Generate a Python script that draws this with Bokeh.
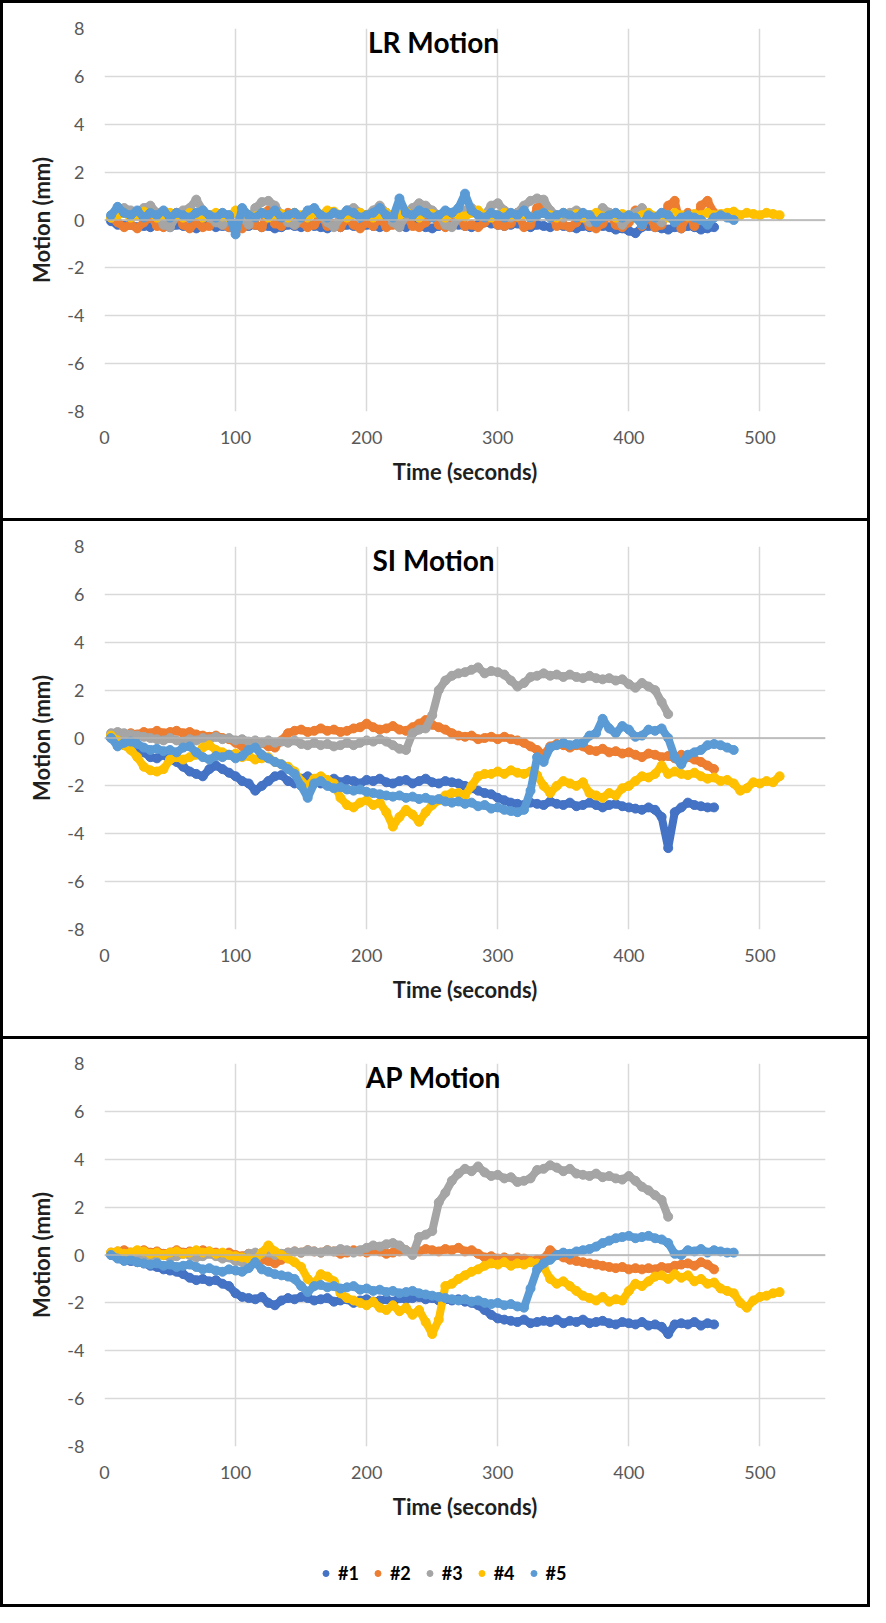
import numpy as np
from bokeh.plotting import figure
from bokeh.models import Range1d, FixedTicker, Span, Label, Legend, LegendItem, ColumnDataSource
from bokeh.layouts import column
from bokeh.embed import file_html
from bokeh.resources import INLINE

# ---------------- data ----------------
T0 = 5      # first sample time (s)
DT = 5      # sample spacing (s)
SERIES = ["#1", "#2", "#3", "#4", "#5"]
COLORS = ["#4472C4", "#ED7D31", "#A5A5A5", "#FFC000", "#5B9BD5"]
X_TICKS = [0, 100, 200, 300, 400, 500]
Y_TICKS = [-8, -6, -4, -2, 0, 2, 4, 6, 8]
TITLES = ["LR Motion", "SI Motion", "AP Motion"]

lr_1 = [-0.05,-0.2,-0.25,-0.2,-0.3,-0.25,-0.3,-0.2,-0.25,-0.3,
        -0.2,-0.25,-0.3,-0.35,-0.25,-0.2,-0.3,-0.25,-0.3,-0.4,
        -0.3,-0.25,-0.2,-0.3,-0.25,-0.35,-0.3,-0.2,-0.25,-0.3,
        -0.2,-0.25,-0.3,-0.35,-0.25,-0.3,-0.2,-0.25,-0.3,-0.2,
        -0.25,-0.3,-0.2,-0.15,-0.25,-0.3,-0.2,-0.25,-0.3,-0.35,
        -0.25,-0.2,-0.15,-0.2,-0.25,-0.3,-0.2,-0.1,-0.15,-0.2,
        -0.25,-0.2,-0.15,-0.25,-0.3,-0.2,-0.25,-0.3,-0.2,-0.25,
        -0.3,-0.35,-0.25,-0.3,-0.2,-0.25,-0.3,-0.4,-0.35,-0.45,
        -0.55,-0.3,-0.25,-0.3,-0.35,-0.4,-0.3,-0.35,-0.25,-0.3,
        -0.4,-0.35,-0.3]
lr_2 = [0.1,-0.1,-0.3,-0.2,-0.35,-0.1,0.2,-0.25,-0.3,-0.15,
        0.3,-0.2,-0.35,-0.1,-0.3,-0.25,0.1,-0.2,-0.3,-0.15,
        -0.35,0.2,-0.2,-0.3,0.4,-0.15,-0.25,0.3,-0.2,-0.1,
        -0.3,-0.2,0.2,-0.25,-0.15,-0.3,0.1,-0.2,-0.35,-0.1,
        -0.25,0.1,-0.3,-0.2,-0.15,0.2,-0.25,-0.3,-0.1,0.3,
        -0.2,-0.3,-0.15,0.1,-0.25,-0.2,-0.3,-0.1,0.2,-0.2,
        -0.25,-0.15,0.3,-0.3,-0.2,0.5,0.7,0.3,-0.25,-0.2,
        -0.3,-0.1,0.2,-0.25,-0.35,-0.15,0.3,-0.2,-0.3,-0.1,
        0.4,-0.25,0.2,-0.3,-0.2,0.6,0.8,-0.35,0.3,-0.25,
        0.6,0.8,0.3]
lr_3 = [0.1,0.3,0.5,0.4,0.2,0.5,0.6,0.3,-0.2,-0.3,
        0.2,0.4,0.5,0.85,0.4,0.1,-0.1,-0.2,0.2,0.3,
        0.1,-0.2,0.5,0.75,0.8,0.6,0.2,-0.1,-0.2,0.1,
        0.3,0.4,0.2,-0.1,-0.3,0.1,0.4,0.5,0.3,0.2,
        0.4,0.6,0.3,-0.1,-0.3,0.2,0.5,0.7,0.6,0.4,
        0.2,-0.2,-0.3,0.1,0.4,0.5,0.3,0.2,0.6,0.7,
        0.4,0.1,0.3,0.6,0.8,0.9,0.85,0.4,0.2,0.1,
        0.3,0.4,0.2,-0.1,0.1,0.5,0.3,0.2,-0.2,0.1,
        0.3,0.5,0.2,0.1,-0.1,0.2]
lr_4 = [0.1,0.2,0.3,0.1,0.2,0.35,0.3,0.1,0.2,0.3,
        0.2,0.1,0.3,0.25,0.1,0.2,0.3,0.15,0.1,0.4,
        0.3,0.2,0.15,0.3,0.1,0.2,0.25,0.1,0.3,0.2,
        0.1,0.3,0.2,0.4,0.35,0.2,0.1,0.25,0.3,0.2,
        0.1,0.2,0.3,0.15,0.2,0.35,0.2,0.1,0.3,0.25,
        0.2,0.1,0.3,0.2,0.15,0.3,0.4,0.2,0.1,0.2,
        0.3,0.2,0.15,0.25,0.1,0.2,0.3,0.2,0.1,0.3,
        0.2,0.25,0.1,0.2,0.3,0.15,0.2,0.1,0.25,0.2,
        0.1,0.2,0.3,0.15,0.2,0.1,0.3,0.2,0.15,0.25,
        0.2,0.3,0.2,0.25,0.3,0.35,0.2,0.3,0.25,0.2,
        0.3,0.25,0.2]
lr_5 = [0.2,0.55,0.3,0.2,0.4,0.1,0.3,0.2,0.4,0.1,
        0.3,0.2,0.1,0.3,0.4,0.2,0.1,0.3,0.2,-0.6,
        0.5,0.2,0.1,0.3,0.2,0.4,0.1,0.2,0.3,0.1,
        0.4,0.5,0.2,0.1,0.3,0.2,0.4,0.3,0.1,0.2,
        0.3,0.5,0.2,0.1,0.9,0.3,0.2,0.4,0.3,0.1,
        0.2,0.4,0.3,0.5,1.1,0.4,0.2,0.1,0.3,0.2,
        0.1,0.3,0.2,0.4,0.1,0.2,0.3,0.1,0.2,0.3,
        0.2,0.1,0.3,0.2,-0.1,0.1,0.2,0.3,0.1,0.2,
        0.1,-0.2,0.2,0.1,0.3,0.2,-0.1,0.1,0.2,0.1,
        0.0,-0.2,0.1,0.2,0.1,0.0]

si_1 = [0.0,-0.2,-0.3,-0.4,-0.5,-0.6,-0.8,-0.85,-0.7,-0.9,
        -1.0,-1.2,-1.4,-1.5,-1.6,-1.3,-1.15,-1.3,-1.45,-1.6,
        -1.8,-1.9,-2.2,-2.0,-1.8,-1.6,-1.55,-1.8,-1.9,-1.7,
        -1.6,-1.75,-1.9,-1.8,-1.7,-1.85,-1.75,-1.8,-1.9,-1.75,
        -1.8,-1.7,-1.85,-1.9,-1.8,-1.75,-1.9,-1.8,-1.7,-1.85,
        -1.9,-1.8,-1.85,-1.9,-2.0,-2.1,-2.2,-2.3,-2.35,-2.5,
        -2.6,-2.7,-2.75,-2.8,-2.7,-2.75,-2.8,-2.65,-2.75,-2.8,
        -2.7,-2.85,-2.8,-2.7,-2.8,-2.9,-2.8,-2.75,-2.85,-2.9,
        -2.95,-3.0,-2.9,-3.0,-3.3,-4.6,-3.1,-2.9,-2.7,-2.8,
        -2.85,-2.9,-2.9]
si_2 = [0.1,0.15,0.1,0.2,0.15,0.25,0.2,0.3,0.2,0.25,
        0.3,0.2,0.25,0.15,0.1,0.05,0.1,0.0,-0.05,-0.2,
        -0.35,-0.5,-0.3,-0.2,-0.35,-0.4,-0.1,0.2,0.3,0.35,
        0.25,0.3,0.4,0.3,0.35,0.25,0.3,0.4,0.45,0.6,
        0.45,0.35,0.4,0.5,0.35,0.3,0.45,0.6,0.75,0.55,
        0.45,0.35,0.2,0.1,0.05,0.1,-0.05,0.0,0.05,-0.05,
        0.05,-0.05,-0.1,-0.2,-0.35,-0.5,-0.7,-0.35,-0.25,-0.3,
        -0.4,-0.3,-0.35,-0.5,-0.55,-0.45,-0.6,-0.55,-0.65,-0.6,
        -0.7,-0.8,-0.65,-0.7,-0.8,-0.75,-0.85,-0.7,-0.8,-0.9,
        -1.0,-1.15,-1.3]
si_3 = [0.2,0.25,0.2,0.15,0.1,0.05,0.0,-0.05,-0.1,0.0,
        -0.1,-0.15,-0.05,-0.1,0.0,-0.05,0.05,-0.05,0.0,-0.1,
        -0.05,-0.15,-0.1,-0.2,-0.1,-0.2,-0.15,-0.2,-0.1,-0.25,
        -0.3,-0.2,-0.3,-0.25,-0.35,-0.3,-0.2,-0.3,-0.2,-0.1,
        -0.15,-0.05,-0.15,-0.3,-0.45,-0.5,0.2,0.35,0.4,0.95,
        2.0,2.4,2.6,2.7,2.75,2.85,2.95,2.7,2.8,2.75,
        2.65,2.4,2.15,2.3,2.55,2.6,2.7,2.6,2.65,2.55,
        2.65,2.55,2.5,2.6,2.5,2.45,2.5,2.4,2.45,2.25,
        2.1,2.3,2.15,2.0,1.5,1.0]
si_4 = [0.1,-0.1,-0.3,-0.5,-0.8,-1.2,-1.35,-1.4,-1.3,-0.9,
        -0.8,-0.9,-0.8,-0.7,-0.4,-0.3,-0.5,-0.6,-0.7,-0.65,
        -0.8,-0.75,-0.9,-0.85,-0.8,-1.0,-1.1,-1.2,-1.4,-1.8,
        -2.0,-1.7,-1.6,-1.75,-1.9,-2.5,-2.8,-2.9,-2.7,-2.6,
        -2.8,-2.7,-3.1,-3.7,-3.3,-3.0,-3.2,-3.5,-3.1,-2.8,
        -2.6,-2.4,-2.3,-2.3,-2.4,-2.0,-1.6,-1.5,-1.5,-1.4,
        -1.5,-1.35,-1.45,-1.5,-1.4,-1.55,-2.0,-2.3,-2.0,-1.8,
        -1.9,-2.0,-1.85,-2.3,-2.4,-2.5,-2.3,-2.4,-2.1,-2.0,
        -1.8,-1.6,-1.65,-1.5,-1.15,-1.5,-1.4,-1.5,-1.55,-1.45,
        -1.6,-1.7,-1.65,-1.8,-1.75,-1.9,-2.2,-2.1,-1.85,-1.9,
        -1.8,-1.85,-1.6]
si_5 = [0.0,-0.35,-0.2,-0.15,-0.25,-0.4,-0.5,-0.45,-0.55,-0.5,
        -0.6,-0.4,-0.35,-0.6,-0.8,-0.9,-0.75,-0.8,-0.7,-0.85,
        -0.75,-0.5,-0.4,-0.7,-0.85,-1.0,-1.1,-1.3,-1.5,-2.0,
        -2.5,-1.9,-1.8,-2.0,-2.1,-2.05,-2.15,-2.2,-2.15,-2.25,
        -2.3,-2.35,-2.4,-2.45,-2.4,-2.5,-2.45,-2.55,-2.5,-2.6,
        -2.55,-2.65,-2.7,-2.65,-2.75,-2.7,-2.85,-2.8,-2.95,-2.9,
        -3.0,-3.05,-3.1,-3.0,-2.2,-0.8,-1.0,-0.4,-0.3,-0.2,
        -0.3,-0.25,-0.2,0.1,0.2,0.8,0.4,0.2,0.5,0.35,
        0.05,0.1,0.35,0.3,0.4,0.0,-0.8,-1.1,-0.7,-0.6,
        -0.5,-0.3,-0.25,-0.3,-0.4,-0.5]

ap_1 = [0.0,-0.1,-0.2,-0.25,-0.3,-0.35,-0.45,-0.5,-0.6,-0.65,
        -0.7,-0.8,-0.95,-1.05,-1.0,-1.1,-1.05,-1.2,-1.3,-1.6,
        -1.75,-1.8,-1.85,-1.75,-2.0,-2.1,-1.9,-1.8,-1.85,-1.75,
        -1.8,-1.9,-1.85,-1.8,-1.95,-1.9,-1.85,-2.0,-1.9,-1.85,
        -1.95,-1.9,-1.85,-1.95,-1.8,-1.85,-1.8,-1.75,-1.85,-1.8,
        -1.9,-1.85,-1.9,-1.85,-1.95,-2.0,-2.1,-2.3,-2.5,-2.65,
        -2.7,-2.75,-2.8,-2.7,-2.85,-2.8,-2.75,-2.8,-2.7,-2.85,
        -2.75,-2.8,-2.7,-2.85,-2.8,-2.75,-2.85,-2.9,-2.8,-2.85,
        -2.9,-2.8,-2.95,-2.9,-3.0,-3.3,-2.9,-2.85,-2.9,-2.8,
        -2.95,-2.85,-2.9]
ap_2 = [0.1,0.15,0.2,0.1,0.15,0.2,0.1,0.15,0.05,0.1,
        0.2,0.1,0.15,0.1,0.2,0.15,0.1,0.05,0.1,0.0,
        -0.05,0.05,-0.1,-0.2,-0.25,-0.35,-0.2,0.1,0.15,0.1,
        0.2,0.15,0.1,0.2,0.15,0.05,0.1,0.2,0.15,0.1,
        0.2,0.15,0.05,0.1,0.15,0.2,0.1,0.15,0.25,0.2,
        0.15,0.25,0.2,0.3,0.15,0.2,0.05,-0.1,-0.05,-0.15,
        -0.1,-0.2,-0.1,-0.15,-0.25,-0.2,-0.15,0.2,0.0,-0.1,
        -0.2,-0.25,-0.3,-0.35,-0.4,-0.45,-0.5,-0.55,-0.5,-0.6,
        -0.55,-0.6,-0.55,-0.6,-0.5,-0.55,-0.45,-0.4,-0.35,-0.45,
        -0.3,-0.4,-0.6]
ap_3 = [0.05,0.1,0.0,-0.05,0.05,-0.1,-0.15,-0.05,0.0,-0.1,
        -0.05,0.05,0.0,-0.1,-0.05,0.05,-0.05,-0.15,-0.1,-0.25,
        -0.3,0.05,0.1,0.05,0.1,0.0,0.05,0.1,0.15,0.1,
        0.2,0.15,0.1,0.2,0.15,0.25,0.2,0.1,0.2,0.3,
        0.4,0.35,0.45,0.5,0.4,0.2,0.0,0.75,0.85,1.0,
        2.2,2.6,3.1,3.4,3.6,3.5,3.7,3.45,3.3,3.35,
        3.2,3.25,3.05,3.1,3.2,3.55,3.6,3.75,3.65,3.5,
        3.6,3.4,3.35,3.3,3.4,3.25,3.3,3.2,3.15,3.3,
        3.1,2.85,2.7,2.5,2.3,1.6]
ap_4 = [0.1,0.15,0.05,0.1,0.2,0.15,0.05,0.1,0.0,0.1,
        0.15,0.05,0.1,0.2,0.1,0.15,0.05,0.1,0.0,-0.05,
        -0.1,-0.15,-0.2,0.1,0.4,0.15,0.0,-0.15,-0.3,-0.5,
        -1.0,-1.2,-0.8,-0.9,-1.1,-1.6,-1.8,-1.9,-2.0,-2.1,
        -1.95,-2.2,-2.3,-2.1,-2.35,-2.2,-2.5,-2.3,-2.8,-3.3,
        -2.7,-1.3,-1.2,-1.0,-0.85,-0.7,-0.6,-0.45,-0.35,-0.4,
        -0.3,-0.45,-0.35,-0.4,-0.3,-0.35,-0.5,-1.0,-1.2,-1.1,
        -1.3,-1.5,-1.7,-1.8,-1.9,-1.75,-1.95,-1.85,-1.9,-1.5,
        -1.2,-1.3,-1.1,-0.9,-0.85,-1.0,-0.8,-0.95,-0.85,-1.1,
        -1.0,-1.2,-1.15,-1.4,-1.5,-1.6,-2.0,-2.2,-1.9,-1.75,
        -1.7,-1.6,-1.55]
ap_5 = [0.0,-0.15,-0.25,-0.2,-0.3,-0.35,-0.4,-0.35,-0.45,-0.4,
        -0.5,-0.45,-0.4,-0.5,-0.6,-0.55,-0.65,-0.7,-0.6,-0.65,
        -0.7,-0.55,-0.3,-0.6,-0.7,-0.8,-0.85,-0.9,-1.0,-1.3,
        -1.55,-1.3,-1.25,-1.35,-1.3,-1.4,-1.35,-1.3,-1.45,-1.4,
        -1.5,-1.45,-1.55,-1.5,-1.6,-1.55,-1.5,-1.6,-1.65,-1.7,
        -1.75,-1.8,-1.85,-1.9,-1.85,-1.95,-1.9,-2.0,-2.05,-2.0,
        -2.1,-2.05,-2.15,-2.2,-1.4,-0.6,-0.35,-0.2,0.0,0.1,
        0.05,0.15,0.2,0.25,0.35,0.5,0.6,0.7,0.75,0.8,
        0.7,0.75,0.8,0.7,0.65,0.5,0.05,0.0,0.2,0.15,
        0.25,0.1,0.2,0.15,0.1,0.1]

PANELS = [
    [lr_1, lr_2, lr_3, lr_4, lr_5],
    [si_1, si_2, si_3, si_4, si_5],
    [ap_1, ap_2, ap_3, ap_4, ap_5],
]

# ---------------- layout ----------------
FIG_W = 864
HEIGHTS = [515, 515, 507]
TOPS = [25, 25, 24]
FRAME_H = 383
LEG_H = 58
FONT = "Lato"
WHITE = {"background-color": "white"}


def make_panel(idx):
    h = HEIGHTS[idx]
    top = TOPS[idx]
    p = figure(width=FIG_W, height=h,
               x_range=Range1d(0, 550), y_range=Range1d(-8, 8),
               output_backend="svg", toolbar_location=None,
               min_border_left=101, min_border_right=42,
               min_border_top=top, min_border_bottom=h - top - FRAME_H,
               styles=WHITE)
    p.outline_line_color = None
    p.background_fill_color = "white"
    p.border_fill_color = "white"

    p.xaxis.ticker = FixedTicker(ticks=X_TICKS)
    p.yaxis.ticker = FixedTicker(ticks=Y_TICKS)
    p.yaxis.major_label_overrides = {v: str(v) for v in Y_TICKS}
    for ax in (p.xaxis[0], p.yaxis[0]):
        ax.axis_line_color = None
        ax.major_tick_line_color = None
        ax.minor_tick_line_color = None
        ax.major_tick_out = 0
        ax.major_tick_in = 0
        ax.major_label_text_font = FONT
        ax.major_label_text_font_size = "18px"
        ax.major_label_text_color = "#595959"
        ax.axis_label_text_font = FONT
        ax.axis_label_text_font_size = "22px"
        ax.axis_label_text_font_style = "bold"
        ax.axis_label_text_color = "#1f1f1f"
    p.xaxis.axis_label = "Time (seconds)"
    p.yaxis.axis_label = "Motion (mm)"
    p.xaxis.major_label_standoff = 19
    p.xaxis.axis_label_standoff = 11
    p.yaxis.major_label_standoff = 20
    p.yaxis.axis_label_standoff = 9

    p.xgrid.grid_line_color = "#d9d9d9"
    p.ygrid.grid_line_color = "#d9d9d9"
    p.xgrid.grid_line_width = 1.5
    p.ygrid.grid_line_width = 1.5

    p.add_layout(Span(location=0, dimension="width", line_color="#b3b3b3", line_width=1.5))

    srcs = []
    for k, vals in enumerate(PANELS[idx]):
        t = T0 + DT * np.arange(len(vals))
        src = ColumnDataSource(dict(t=t, v=np.array(vals, dtype=float)))
        p.line("t", "v", source=src, line_color=COLORS[k], line_width=8, line_join="round")
        p.scatter("t", "v", source=src, size=9, marker="circle",
                  fill_color=COLORS[k], line_color=COLORS[k])
        srcs.append(src)

    p.add_layout(Label(x=251, y=7.44, text=TITLES[idx], text_align="center",
                       text_baseline="middle", text_font=FONT, text_font_size="28px",
                       text_font_style="bold", text_color="black"))
    return p, srcs


def make_legend_fig(sources):
    # legend strip: the series' own markers, drawn against a range that keeps them out of view
    q = figure(width=FIG_W, height=LEG_H, x_range=Range1d(-1000, -999), y_range=Range1d(-1000, -999),
               output_backend="svg", toolbar_location=None,
               x_axis_location=None, y_axis_location=None,
               min_border=0, min_border_left=0, min_border_right=0,
               min_border_top=0, min_border_bottom=0, styles=WHITE)
    q.xgrid.grid_line_color = None
    q.ygrid.grid_line_color = None
    q.outline_line_color = None
    q.background_fill_color = "white"
    q.border_fill_color = "white"
    items = []
    for k in range(5):
        r = q.scatter("t", "v", source=sources[k], size=6, marker="circle",
                      fill_color=COLORS[k], line_color=COLORS[k])
        items.append(LegendItem(label=SERIES[k], renderers=[r]))
    leg = Legend(items=items, orientation="horizontal", location=(214, 20),
                 glyph_width=15, glyph_height=20, label_standoff=5, spacing=11,
                 padding=0, margin=0, border_line_color=None,
                 background_fill_alpha=0,
                 label_text_font=FONT, label_text_font_size="18px",
                 label_text_font_style="bold", label_text_color="black")
    q.add_layout(leg)
    return q


panels = [make_panel(i) for i in range(3)]
figs = [pp[0] for pp in panels]
bottom = column(figs[2], make_legend_fig(panels[2][1]), spacing=0)
layout = column(figs[0], figs[1], bottom, spacing=3,
                styles={"background-color": "black", "padding": "3px"})

open("out.html", "w").write(file_html(layout, INLINE))
